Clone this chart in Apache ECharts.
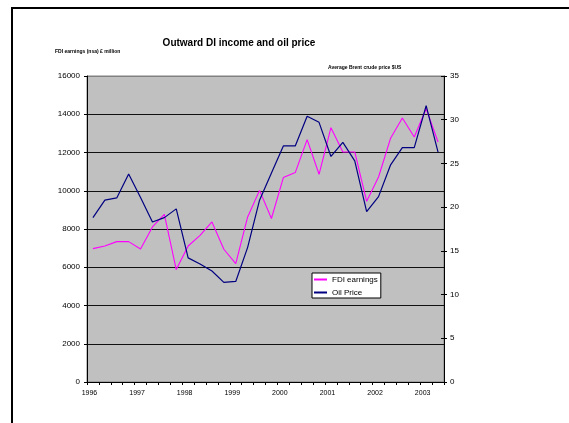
<!DOCTYPE html>
<html>
<head>
<meta charset="utf-8">
<script src="https://cdn.jsdelivr.net/npm/echarts@6/dist/echarts.min.js"></script>
<style>
html,body{margin:0;padding:0;background:#fff;}
#chart{width:569px;height:423px;}
</style>
</head>
<body>
<div id="chart"></div>
<script>
// Quarterly categories 1996 Q1 .. 2003 Q2
const years = ["1996","1997","1998","1999","2000","2001","2002","2003"];
const categories = [];
years.forEach(function (y) { ["Q1","Q2","Q3","Q4"].forEach(function (q) { categories.push(y + " " + q); }); });
categories.splice(30);

// FDI earnings (nsa) £ million
const fdiEarnings = [6975, 7110, 7340, 7340, 6955, 8105, 8770, 5880, 7110, 7670,
                     8370, 6940, 6190, 8630, 10020, 8550, 10690, 10950, 12670, 10860,
                     13300, 12030, 12030, 9450, 10720, 12730, 13800, 12810, 14290, 12550];
// Average Brent crude price $US
const oilPrice = [18.8, 20.8, 21.05, 23.8, 21.1, 18.3, 18.8, 19.8, 14.2, 13.5,
                  12.7, 11.4, 11.5, 15.4, 20.8, 23.9, 27.0, 27.0, 30.4, 29.7,
                  25.8, 27.4, 25.3, 19.5, 21.2, 24.8, 26.8, 26.8, 31.6, 26.3];

const leftTicks = [0, 16000, 2000];   // min, max, interval
const rightTicks = [0, 35, 5];

const FONT = "Liberation Sans, Arial, sans-serif";
const chart = echarts.init(document.getElementById('chart'), null, {renderer: 'canvas'});

const splitColors = [];
for (let i = 0; i < 8; i++) splitColors.push('#111');
splitColors.push('#808080');

chart.setOption({
  animation: false,
  backgroundColor: '#ffffff',
  textStyle: {fontFamily: FONT},
  graphic: [{
    type: 'rect', silent: true,
    shape: {x: 12, y: 8, width: 700, height: 600},
    style: {fill: 'none', stroke: '#000', lineWidth: 2}
  }],
  title: [
    {text: 'Outward DI income and oil price', left: 239, top: 38, textAlign: 'center', padding: 0,
     textStyle: {fontFamily: FONT, fontSize: 10, fontWeight: 'bold', color: '#000'}},
    {text: 'FDI earnings (nsa) £ million', left: 55, top: 49.5, padding: 0,
     textStyle: {fontFamily: FONT, fontSize: 5, fontWeight: 'bold', color: '#000'}},
    {text: 'Average Brent crude price $US', left: 328, top: 65.5, padding: 0,
     textStyle: {fontFamily: FONT, fontSize: 5, fontWeight: 'bold', color: '#000'}}
  ],
  legend: {
    orient: 'vertical', left: 312, top: 273,
    backgroundColor: '#fff', borderColor: '#000', borderWidth: 1,
    padding: [2, 3, 1, 2], itemGap: 4,
    itemWidth: 13, itemHeight: 2, icon: 'rect',
    textStyle: {fontFamily: FONT, fontSize: 8, color: '#000', lineHeight: 9},
    data: ['FDI earnings', 'Oil Price']
  },
  grid: {left: 87, right: 125, top: 76, bottom: 41, show: true,
         backgroundColor: '#C0C0C0', borderColor: '#808080', borderWidth: 1},
  xAxis: {
    type: 'category', data: categories, boundaryGap: true,
    axisLine: {lineStyle: {color: '#000', width: 1}},
    axisTick: {show: true, interval: 0, length: 3, lineStyle: {color: '#000'}},
    axisLabel: {interval: 3, margin: 8, fontSize: 7, color: '#000', fontFamily: FONT,
                padding: [0, 7, 0, 0],
                formatter: function (v) { return v.slice(0, 4); }},
    splitLine: {show: false}
  },
  yAxis: [
    {type: 'value', position: 'left', min: leftTicks[0], max: leftTicks[1], interval: leftTicks[2],
     axisLine: {show: true, lineStyle: {color: '#000', width: 1}},
     axisTick: {show: true, length: 3, lineStyle: {color: '#000'}},
     axisLabel: {margin: 7, fontSize: 8, color: '#000', fontFamily: FONT,
                 formatter: function (v) { return String(v); }},
     splitLine: {show: true, lineStyle: {color: splitColors, width: 1}}},
    {type: 'value', position: 'right', min: rightTicks[0], max: rightTicks[1], interval: rightTicks[2],
     axisLine: {show: true, lineStyle: {color: '#000', width: 1}},
     axisTick: {show: true, length: 3, lineStyle: {color: '#000'}},
     axisLabel: {margin: 6, fontSize: 8, color: '#000', fontFamily: FONT,
                 formatter: function (v) { return String(v); }},
     splitLine: {show: false}},
    {type: 'value', position: 'right', min: rightTicks[0], max: rightTicks[1], interval: rightTicks[2],
     axisLine: {show: false},
     axisTick: {show: true, inside: true, length: 3, lineStyle: {color: '#000'}},
     axisLabel: {show: false},
     splitLine: {show: false}}
  ],
  series: [
    {name: 'FDI earnings', type: 'line', yAxisIndex: 0, data: fdiEarnings,
     showSymbol: false, symbol: 'none', lineStyle: {color: '#FF00FF', width: 1.1}, itemStyle: {color: '#FF00FF'}},
    {name: 'Oil Price', type: 'line', yAxisIndex: 1, data: oilPrice,
     showSymbol: false, symbol: 'none', lineStyle: {color: '#000080', width: 1.2}, itemStyle: {color: '#000080'}}
  ]
});
</script>
</body>
</html>
